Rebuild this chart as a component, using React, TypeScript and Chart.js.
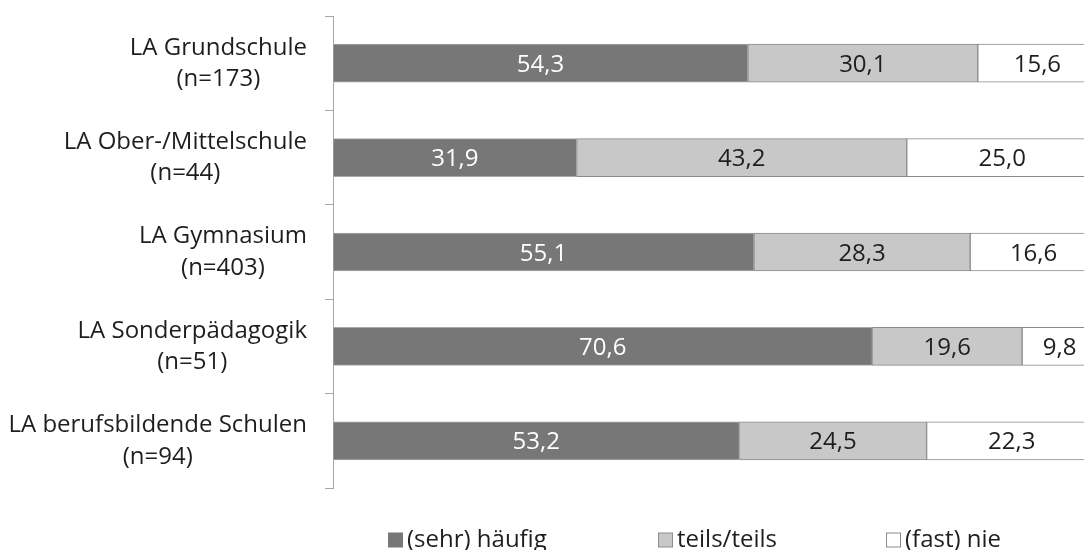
import React, { useEffect, useRef } from 'react';
import { Chart, registerables } from 'chart.js';

Chart.register(...registerables);

const categories: string[][] = [
  ['LA Grundschule', '(n=173)'],
  ['LA Ober-/Mittelschule', '(n=44)'],
  ['LA Gymnasium', '(n=403)'],
  ['LA Sonderpädagogik', '(n=51)'],
  ['LA berufsbildende Schulen', '(n=94)'],
];
const seriesNames = ['(sehr) häufig', 'teils/teils', '(fast) nie'];
const haeufig = [54.3, 31.9, 55.1, 70.6, 53.2];
const teils = [30.1, 43.2, 28.3, 19.6, 24.5];
const nie = [15.6, 25.0, 16.6, 9.8, 22.3];

const FONT = "'Open Sans', 'Noto Sans', sans-serif";
const fills = ['#777777', '#c8c8c8', '#ffffff'];
const borders = ['#a8a8a8', '#8c8c8c', '#8c8c8c'];
const labelColors = ['#ffffff', '#1e1e1e', '#1e1e1e'];
const legendX = [388, 658, 886];

const fmt = (v: number) => v.toFixed(1).replace('.', ',');

const customDraw = {
  id: 'customDraw',
  afterDatasetsDraw(chart: any) {
    const ctx = chart.ctx as CanvasRenderingContext2D;
    ctx.save();
    ctx.font = `24px ${FONT}`;
    ctx.textAlign = 'center';
    ctx.textBaseline = 'alphabetic';
    chart.data.datasets.forEach((ds: any, di: number) => {
      const meta = chart.getDatasetMeta(di);
      meta.data.forEach((el: any, i: number) => {
        const cx = (el.x + el.base) / 2;
        ctx.fillStyle = labelColors[di];
        ctx.fillText(fmt(ds.data[i]), cx, el.y + 8.6);
      });
    });
    ctx.restore();
  },
  afterDraw(chart: any) {
    const ctx = chart.ctx as CanvasRenderingContext2D;
    const yScale = chart.scales.y;
    ctx.save();
    ctx.font = `24px ${FONT}`;
    ctx.fillStyle = '#1e1e1e';
    ctx.textAlign = 'center';
    ctx.textBaseline = 'alphabetic';
    const rightEdge = yScale.right - 26;
    categories.forEach((lines, i) => {
      const cy = yScale.getPixelForValue(i);
      const w = Math.max(...lines.map((l) => ctx.measureText(l).width));
      const cx = rightEdge - w / 2;
      ctx.fillText(lines[0], cx, cy - 8.6);
      ctx.fillText(lines[1], cx, cy + 22.8);
    });
    // legend
    const baseY = 546.5;
    seriesNames.forEach((name, i) => {
      const x = legendX[i];
      ctx.fillStyle = fills[i];
      ctx.fillRect(x + 0.5, baseY - 14 + 0.5, 14, 14);
      ctx.strokeStyle = i === 0 ? '#777777' : '#8c8c8c';
      ctx.lineWidth = 1;
      ctx.strokeRect(x + 0.5, baseY - 14 + 0.5, 14, 14);
      ctx.fillStyle = '#1e1e1e';
      ctx.textAlign = 'left';
      ctx.fillText(name, x + 19, baseY);
    });
    ctx.restore();
  },
};

export default function App() {
  const canvasRef = useRef<HTMLCanvasElement | null>(null);

  useEffect(() => {
    if (!canvasRef.current) return;
    const values = [haeufig, teils, nie];
    const chart = new Chart(canvasRef.current, {
      type: 'bar',
      data: {
        labels: categories.map((c) => c.join(' ')),
        datasets: seriesNames.map((name, i) => ({
          label: name,
          data: values[i],
          backgroundColor: fills[i],
          borderColor: borders[i],
          borderWidth: 1,
          borderSkipped: false,
          barThickness: 38,
        })),
      },
      options: {
        indexAxis: 'y',
        animation: false,
        responsive: true,
        maintainAspectRatio: false,
        layout: { padding: { top: 16, bottom: 62, left: 0, right: 0 } },
        plugins: {
          legend: { display: false },
          tooltip: { enabled: false },
        },
        scales: {
          x: {
            display: false,
            stacked: true,
            min: 0,
            max: 100,
          },
          y: {
            stacked: true,
            offset: true,
            ticks: { display: false },
            grid: {
              offset: true,
              drawOnChartArea: false,
              drawTicks: true,
              tickLength: 8,
              color: '#a6a6a6',
            },
            border: { display: true, color: '#a6a6a6', width: 1 },
            afterFit: (scale: any) => {
              scale.width = 333;
            },
          },
        },
      },
      plugins: [customDraw],
    });
    return () => chart.destroy();
  }, []);

  return (
    <div
      style={{
        position: 'fixed',
        left: 0,
        top: 0,
        width: 1084,
        height: 550,
        overflow: 'hidden',
        background: '#ffffff',
      }}
    >
      <div style={{ position: 'relative', width: 1097, height: 550 }}>
        <canvas ref={canvasRef} />
      </div>
    </div>
  );
}
